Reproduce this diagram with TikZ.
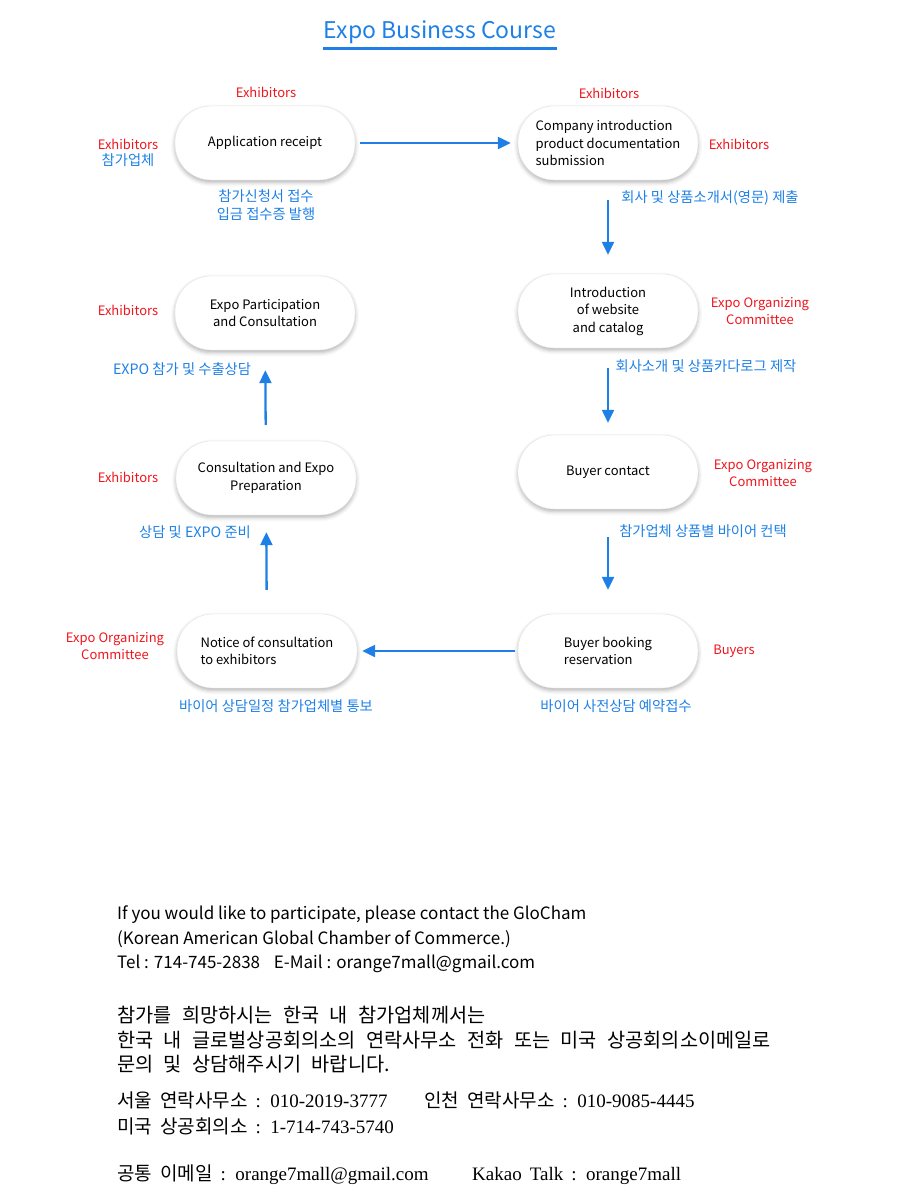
\documentclass[tikz,border=0pt]{standalone}
\usepackage{fontspec}
\setmainfont{Noto Sans CJK KR}
\newfontfamily\numfont{Liberation Serif}
\usetikzlibrary{positioning,shadows,shadows.blur,arrows.meta}

\definecolor{flowblue}{RGB}{30,128,230}
\definecolor{rolered}{RGB}{240,22,30}
\newcommand\krwide{\spaceskip 10.5pt\relax}
\newcommand\telwide{\spaceskip 8pt\relax}

\begin{document}
\begin{tikzpicture}[x=1pt,y=-1pt,
    stage/.style={draw=gray!22, fill=white, rounded corners=36pt, minimum width=180pt, minimum height=74pt,
      inner sep=2pt, align=center, font=\fontsize{13}{17.5}\selectfont,
      blur shadow={shadow xshift=0pt, shadow yshift=-2.5pt, shadow blur radius=4pt, shadow opacity=30}},
    who/.style={text=rolered, align=center, font=\fontsize{13}{17.5}\selectfont},
    note/.style={text=flowblue, align=center, font=\fontsize{14.3}{18}\selectfont},
    flow/.style={draw=flowblue, line width=2.3pt, -{Triangle[length=13pt,width=12pt]}},
    info/.style={anchor=base west, inner sep=0pt, font=\fontsize{17}{24}\selectfont},
    krinfo/.style={anchor=base west, inner sep=0pt, font=\fontsize{19.7}{24}\selectfont\krwide},
    telinfo/.style={anchor=base west, inner sep=0pt, font=\fontsize{19}{24}\selectfont\telwide}]
  \useasboundingbox (0,0) rectangle (900,1200);

  % title
  \node[text=flowblue, font=\fontsize{23}{26}\selectfont, inner sep=0pt] (title) at (440,32) {Expo Business Course};
  \draw[flowblue, line width=3pt] ([xshift=-1pt,yshift=-4.5pt]title.south west) -- ([xshift=1pt,yshift=-4.5pt]title.south east);

  % stages
  \node[stage] (app) at (265,143) {Application receipt};
  \node[stage, align=left] (comp) at (608,143) {Company introduction\\product documentation\\submission};
  \node[stage] (web) at (608,311) {Introduction\\of website\\ and catalog};
  \node[stage] (buyer) at (608,472) {Buyer contact};
  \node[stage, align=left] (booking) at (608,651) {Buyer booking\\reservation};
  \node[stage, align=left] (notice) at (267,651) {Notice of consultation\\to exhibitors};
  \node[stage] (prep) at (266,478) {Consultation and Expo\\Preparation};
  \node[stage] (part) at (265,313) {Expo Participation\\and Consultation};

  % who does it
  \node[who] (appTop) at (266,92) {Exhibitors};
  \node[who] (appLeft) at (128,144) {Exhibitors};
  \node[note, anchor=north, inner sep=1pt] (appLeftKr) at (appLeft.south) {참가업체};
  \node[who] (compTop) at (609,93) {Exhibitors};
  \node[who] (compRight) at (739,144) {Exhibitors};
  \node[who] (webRight) at (760,311) {Expo Organizing\\Committee};
  \node[who] (buyerRight) at (763,473) {Expo Organizing\\Committee};
  \node[who] (bookingRight) at (734,651) {Buyers};
  \node[who] (noticeLeft) at (115,646) {Expo Organizing\\Committee};
  \node[who] (prepLeft) at (128,477) {Exhibitors};
  \node[who] (partLeft) at (128,310) {Exhibitors};

  % korean notes
  \node[note] (appKr) at (266,205) {참가신청서 접수\\입금 접수증 발행};
  \node[note] (compKr) at (710,198) {회사 및 상품소개서(영문) 제출};
  \node[note] (webKr) at (706,366) {회사소개 및 상품카다로그 제작};
  \node[note] (buyerKr) at (703,531) {참가업체 상품별 바이어 컨택};
  \node[note] (bookingKr) at (616,706) {바이어 사전상담 예약접수};
  \node[note] (noticeKr) at (276,706) {바이어 상담일정 참가업체별 통보};
  \node[note] (prepKr) at (195,532) {상담 및 EXPO 준비};
  \node[note] (partKr) at (182,369) {EXPO 참가 및 수출상담};

  % flow
  \draw[flow, shorten <=5pt, shorten >=7pt] (app) -- (comp);
  \draw[flow, shorten <=20pt, shorten >=19pt] (comp) -- (web);
  \draw[flow, shorten <=20pt, shorten >=12pt] (web) -- (buyer);
  \draw[flow, shorten <=28pt, shorten >=24pt] (buyer) -- (booking);
  \draw[flow, shorten <=3pt, shorten >=5pt] (booking) -- (notice);
  \draw[flow, shorten <=24pt, shorten >=17pt] (notice) -- (prep);
  \draw[flow, shorten <=16pt, shorten >=20pt] (prep) -- (part);

  % contact
  \node[info] (en1) at (117,919) {If you would like to participate, please contact the GloCham};
  \node[info] (en2) at (117,944) {(Korean American Global Chamber of Commerce.)};
  \node[info] (en3) at (117,968) {Tel : 714-745-2838\hspace{10pt} E-Mail : orange7mall@gmail.com};
  \node[krinfo] (kr1) at (117,1022) {참가를 희망하시는 한국 내 참가업체께서는};
  \node[krinfo] (kr2) at (117,1047) {한국 내 글로벌상공회의소의 연락사무소 전화 또는 미국 상공회의소이메일로};
  \node[krinfo] (kr3) at (117,1071) {문의 및 상담해주시기 바랍니다.};
  \node[telinfo] (seoul) at (117,1107) {서울 연락사무소 {\numfont : 010-2019-3777}};
  \node[telinfo] (incheon) at (424,1107) {인천 연락사무소 {\numfont : 010-9085-4445}};
  \node[telinfo] (usa) at (117,1133) {미국 상공회의소 {\numfont : 1-714-743-5740}};
  \node[telinfo] (mail) at (117,1180) {공통 이메일 {\numfont : orange7mall@gmail.com}};
  \node[telinfo] (kakao) at (472,1180) {\numfont Kakao Talk : orange7mall};
\end{tikzpicture}
\end{document}
